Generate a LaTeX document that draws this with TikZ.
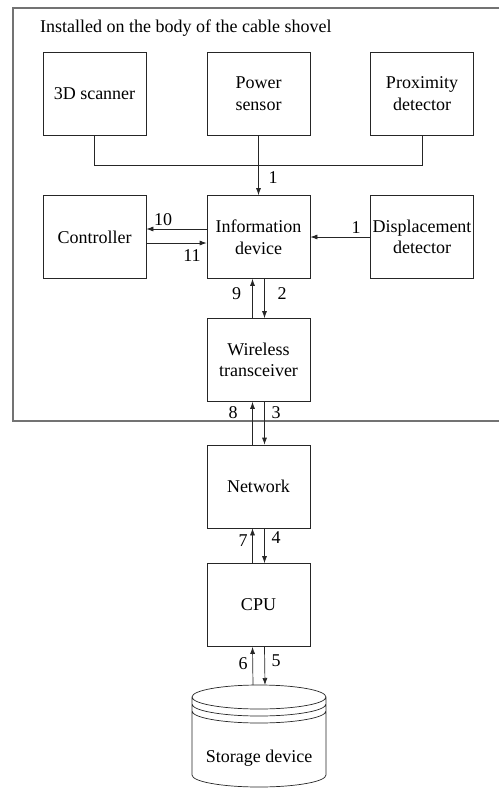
\documentclass[tikz,border=0pt]{standalone}
\usepackage{fontspec}
\setmainfont{LiberationSerif}[Extension=.ttf,UprightFont=*-Regular,BoldFont=*-Bold,ItalicFont=*-Italic,BoldItalicFont=*-BoldItalic]
\usepackage{tikz}
\usetikzlibrary{calc,arrows.meta}

\tikzset{
  block/.style={draw=black!85,line width=0.7pt,minimum width=103pt,minimum height=83pt,
    inner sep=1pt,align=center,font=\rmfamily\fontsize{18}{21.5}\selectfont},
  num/.style={anchor=base,inner sep=0pt,font=\rmfamily\fontsize{18}{21.5}\selectfont},
  link/.style={draw=black!85,line width=0.7pt,-{Latex[length=7pt,width=5pt]}}
}

\begin{document}
\begin{tikzpicture}[x=1pt,y=-1pt]
        \useasboundingbox (0,0) rectangle (499,788);

        % frame round the parts on the shovel
        \draw[black!55,line width=1.1pt] (499,8) -- (13,8) -- (13,421) -- (499,421);
        \node[num,anchor=base west] (title) at (40,32.5) {Installed on the body of the cable shovel};

        \node[block] (scan) at (94.5,93.5) {3D scanner};
        \node[block] (power) at (258.5,93.5) {Power\\sensor};
        \node[block] (prox) at (422,93.5) {Proximity\\detector};
        \node[block] (ctrl) at (94.5,237) {Controller};
        \node[block] (info) at (258.5,237) {Information\\device};
        \node[block] (disp) at (422,237) {Displacement\\detector};
        \node[block] (wl) at (258.5,360) {Wireless\\transceiver};
        \node[block] (net) at (258.5,486.5) {Network};
        \node[block] (cpu) at (258.5,605) {CPU};

        % storage drum
        \coordinate (stl) at (192,697);
        \coordinate (str) at (326,697);
        \draw[black!85,line width=0.7pt]
        (259,697) ellipse (67 and 12)
        (stl) arc (180:360:67 and -12)
        ($(stl)+(0,7)$) arc (180:360:67 and -12)
        ($(stl)+(0,14)$) arc (180:360:67 and -12)
        (stl) -- (192,775) arc (180:360:67 and -12) -- (str);
        \node[num] (store) at (259,762) {Storage device};
        \coordinate (stop) at (259,685);

        % sensors to information device
        \draw[black!85,line width=0.7pt] (scan.south) |- (prox.south |- 0,165) -- (prox.south);
        \draw[link] (power.south) -- (info.north);
        \draw[link] (disp.west) -- (info.east);
        \draw[link] ([yshift=8pt]info.west) -- ([yshift=8pt]ctrl.east);
        \draw[link] ([yshift=-6pt]ctrl.east) -- ([yshift=-6pt]info.west);

        % up and down the chain
        \draw[link] ([xshift=-6pt]wl.north) -- ([xshift=-6pt]info.south);
        \draw[link] ([xshift=6pt]info.south) -- ([xshift=6pt]wl.north);
        \draw[link] ([xshift=-6pt]net.north) -- ([xshift=-6pt]wl.south);
        \draw[link] ([xshift=6pt]wl.south) -- ([xshift=6pt]net.north);
        \draw[link] ([xshift=-6pt]cpu.north) -- ([xshift=-6pt]net.south);
        \draw[link] ([xshift=6pt]net.south) -- ([xshift=6pt]cpu.north);
        \draw[link] ([xshift=-6pt]stop) -- ([xshift=-6pt]cpu.south);
        \draw[link] ([xshift=6pt]cpu.south) -- ([xshift=6pt]stop);

        \node[num] (n1a) at (273,183) {1};
        \node[num] (n1b) at (356,233) {1};
        \node[num] (n10) at (163,225) {10};
        \node[num] (n11) at (192,261.5) {11};
        \node[num] (n9) at (236.5,299) {9};
        \node[num] (n2) at (282,299) {2};
        \node[num] (n8) at (233,418) {8};
        \node[num] (n3) at (276,418) {3};
        \node[num] (n7) at (243,546) {7};
        \node[num] (n4) at (276,543) {4};
        \node[num] (n6) at (243,669) {6};
        \node[num] (n5) at (276,666.5) {5};
      \end{tikzpicture}
\end{document}
